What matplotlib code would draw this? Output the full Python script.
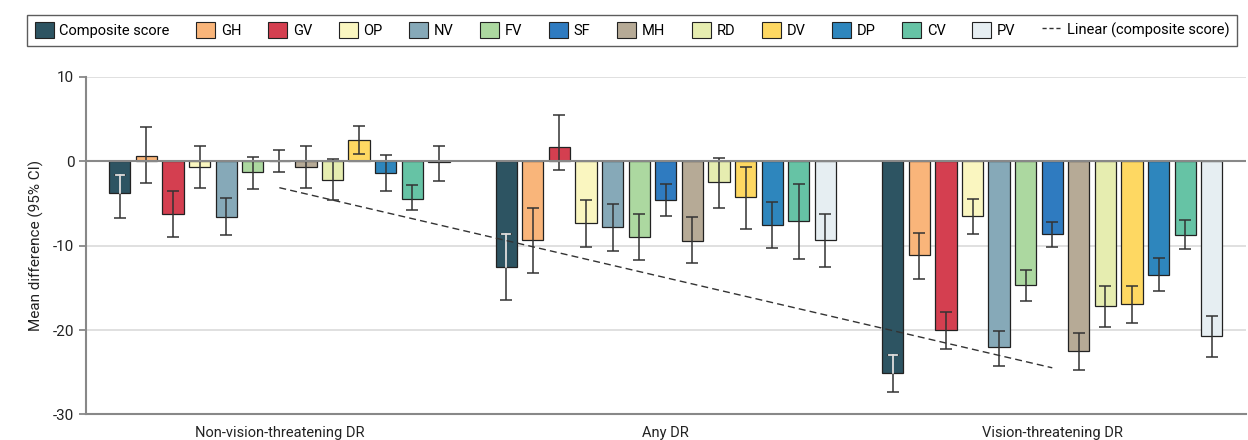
import matplotlib
matplotlib.use('Agg')
import matplotlib.pyplot as plt
from matplotlib.patches import Patch
from matplotlib.lines import Line2D
import numpy as np

plt.rcParams['font.family'] = ['Liberation Sans Narrow', 'Roboto', 'DejaVu Sans']

groups = ['Non-vision-threatening DR', 'Any DR', 'Vision-threatening DR']
measures = ['Composite score', 'GH', 'GV', 'OP', 'NV', 'FV', 'SF', 'MH', 'RD', 'DV', 'DP', 'CV', 'PV']
colors = ['#2d5462', '#f9b57a', '#d43f50', '#faf6c0', '#86a9b8', '#acd8a0', '#2f7bc0',
          '#b6aa96', '#e6edb0', '#fed862', '#2e86bd', '#66c3a5', '#e6eef2']

# mean difference per group, one list per measure (order of groups above)
means = {
    'Composite score': [-3.75, -12.53, -25.10],
    'GH': [0.64, -9.37, -11.15],
    'GV': [-6.28, 1.70, -20.00],
    'OP': [-0.63, -7.31, -6.48],
    'NV': [-6.60, -7.83, -22.06],
    'FV': [-1.26, -8.97, -14.67],
    'SF': [0.05, -4.54, -8.61],
    'MH': [-0.63, -9.41, -22.50],
    'RD': [-2.20, -2.49, -17.15],
    'DV': [2.53, -4.27, -16.88],
    'DP': [-1.38, -7.55, -13.48],
    'CV': [-4.46, -7.07, -8.70],
    'PV': [-0.10, -9.33, -20.71],
}
ci_upper = {
    'Composite score': [-1.66, -8.58, -22.90],
    'GH': [4.08, -5.49, -8.54],
    'GV': [-3.56, 5.54, -17.80],
    'OP': [1.78, -4.54, -4.46],
    'NV': [-4.35, -5.06, -20.05],
    'FV': [0.47, -6.24, -12.93],
    'SF': [1.35, -2.65, -7.19],
    'MH': [1.86, -6.64, -20.36],
    'RD': [0.24, 0.40, -14.83],
    'DV': [4.15, -0.71, -14.75],
    'DP': [0.71, -4.82, -11.42],
    'CV': [-2.80, -2.69, -6.95],
    'PV': [1.86, -6.20, -18.30],
}
ci_lower = {
    'Composite score': [-6.76, -16.49, -27.28],
    'GH': [-2.57, -13.28, -13.95],
    'GV': [-8.97, -1.02, -22.18],
    'OP': [-3.20, -10.16, -8.61],
    'NV': [-8.74, -10.60, -24.23],
    'FV': [-3.24, -11.66, -16.52],
    'SF': [-1.26, -6.52, -10.20],
    'MH': [-3.20, -12.05, -24.67],
    'RD': [-4.58, -5.49, -19.65],
    'DV': [0.91, -7.98, -19.13],
    'DP': [-3.52, -10.28, -15.42],
    'CV': [-5.81, -11.54, -10.40],
    'PV': [-2.29, -12.57, -23.17],
}

fig = plt.figure(figsize=(12.48, 4.4), dpi=100)
ax = fig.add_axes([0.069, 0.058, 0.929, 0.767])

x = np.arange(len(groups))
step = 0.0688
width = 0.055

for i, m in enumerate(measures):
    pos = x + (i - 6) * step
    vals = np.array(means[m])
    up = np.array(ci_upper[m])
    lo = np.array(ci_lower[m])
    ax.bar(pos, vals, width, color=colors[i], edgecolor='#222222', linewidth=0.9, zorder=3)
    ax.errorbar(pos, vals, yerr=[vals - lo, up - vals], fmt='none', ecolor='#333333',
                elinewidth=1.1, capsize=4, capthick=1.1, zorder=4)
    if m == 'Composite score':
        # part of the interval inside the dark bar is drawn white
        for p, v, u in zip(pos, vals, up):
            ax.plot([p, p], [u, v], color='white', lw=1.1, zorder=5)
            ax.plot([p - 0.01, p + 0.01], [u, u], color='#dddddd', lw=1.3, zorder=5)

# linear trend through the composite score
fit = np.polyfit(x, means['Composite score'], 1)
ax.plot(x[[0, -1]], np.polyval(fit, x[[0, -1]]), ls=(0, (5, 3)), color='#333333', lw=1, zorder=6)

ax.axhline(0, color='#888888', lw=1.5, zorder=4)
for g in [10, -10, -20]:
    ax.axhline(g, color='#dddddd', lw=1.3, zorder=0)

ax.set_xlim(-0.5, 2.5)
ax.set_ylim(-30, 10)
ax.set_yticks([10, 0, -10, -20, -30])
ax.set_yticklabels(['10', '0', '-10', '-20', '-30'])
ax.set_xticks(x)
ax.set_xticklabels(groups)
ax.tick_params(axis='x', length=0, pad=8, labelsize=10.5, colors='#222222')
ax.tick_params(axis='y', length=5, width=1.3, color='#888888', labelsize=11, labelcolor='#222222')
ax.spines['top'].set_visible(False)
ax.spines['right'].set_visible(False)
ax.spines['left'].set_color('#888888')
ax.spines['bottom'].set_color('#888888')
ax.spines['left'].set_linewidth(1.5)
ax.spines['bottom'].set_linewidth(1.5)
ax.set_ylabel('Mean difference (95% CI)', fontsize=11, color='#222222', labelpad=6)

handles = [Patch(facecolor=c, edgecolor='#222222', linewidth=0.8) for c in colors]
handles.append(Line2D([], [], ls=(0, (3, 2)), color='#333333', lw=1))
labels = measures + ['Linear (composite score)']
leg = fig.legend(handles, labels, loc='center', ncol=len(labels), mode='expand',
                 bbox_to_anchor=(0.016, 0.886, 0.981, 0.091), fontsize=10.5,
                 handlelength=1.3, handleheight=1.3, handletextpad=0.4, columnspacing=1.0,
                 fancybox=False, edgecolor='#333333', borderpad=0.5)
leg.get_frame().set_linewidth(1)

plt.savefig('out.png', dpi=100)
